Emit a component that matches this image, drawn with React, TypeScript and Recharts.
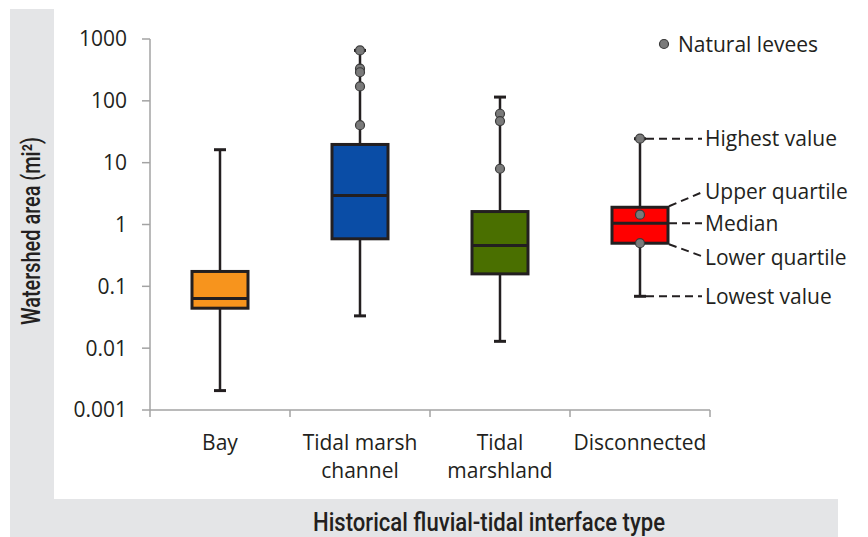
import React from "react";
import { ComposedChart, Bar, Scatter, XAxis, YAxis, Cell } from "recharts";

// values (log scale, mi²)
const categories = ["Bay", "Tidal marsh channel", "Tidal marshland", "Disconnected"];
const categoryLines = [["Bay"], ["Tidal marsh", "channel"], ["Tidal", "marshland"], ["Disconnected"]];
const lowest = [0.00206, 0.0333, 0.0129, 0.069];
const lowerQuartile = [0.0443, 0.587, 0.159, 0.498];
const medians = [0.0635, 2.95, 0.457, 1.05];
const upperQuartile = [0.174, 19.7, 1.62, 1.9];
const highest = [16.2, 654, 115, 24.4];
// natural levees (grey dots)
const levees = [[], [654, 331, 290, 171, 40.4], [61.8, 47, 7.97], [24.4, 1.44, 0.498]];
const boxColors = ["#f7941d", "#0a4da6", "#4a6f00", "#ff0000"];
const yTicks = [0.001, 0.01, 0.1, 1, 10, 100, 1000];
const calloutLabels = ["Highest value", "Upper quartile", "Median", "Lower quartile", "Lowest value"];

const leveeKeys = ["l0", "l1", "l2", "l3", "l4"];

const data = categories.map((name, i) => {
  const row: Record<string, any> = {
    name,
    whisker: [lowest[i], highest[i]],
    box: [lowerQuartile[i], upperQuartile[i]],
    median: medians[i],
  };
  leveeKeys.forEach((k, j) => {
    row[k] = levees[i][j] ?? null;
  });
  return row;
});

const INK = "#231f20";
const AXIS = "#a3a3a3";
const FONT = "'Open Sans', sans-serif";
const FS = 21;
const BOX_W = 56;
const CAP_W = 12;
const LABEL_X = 705;

const dash = { stroke: INK, strokeWidth: 2, strokeDasharray: "8 5" };

const Callout = ({ x1, y1, x2, y2, ty, label }: any) => (
  <g>
    <line x1={x1} y1={y1} x2={x2} y2={y2} {...dash} />
    <text x={LABEL_X} y={ty} dy="0.36em" fontSize={FS} fontFamily={FONT} fill={INK}>
      {label}
    </text>
  </g>
);

const WhiskerShape = (props: any) => {
  const { x, y, width, height, payload } = props;
  const cx = x + width / 2;
  const top = Math.min(y, y + height);
  const bottom = Math.max(y, y + height);
  const last = payload.name === categories[categories.length - 1];
  return (
    <g>
      <line x1={cx} x2={cx} y1={top} y2={bottom} stroke={INK} strokeWidth={2.5} />
      <line x1={cx - CAP_W / 2} x2={cx + CAP_W / 2} y1={top} y2={top} stroke={INK} strokeWidth={3} />
      <line x1={cx - CAP_W / 2} x2={cx + CAP_W / 2} y1={bottom} y2={bottom} stroke={INK} strokeWidth={3} />
      {last && (
        <>
          <Callout x1={cx + 6} y1={top} x2={LABEL_X - 3} y2={top} ty={top} label={calloutLabels[0]} />
          <Callout x1={cx + 6} y1={bottom} x2={LABEL_X - 3} y2={bottom} ty={bottom} label={calloutLabels[4]} />
        </>
      )}
    </g>
  );
};

const BoxShape = (props: any) => {
  const { x, y, width, height, fill, payload } = props;
  const top = Math.min(y, y + height);
  const bottom = Math.max(y, y + height);
  const last = payload.name === categories[categories.length - 1];
  return (
    <g>
      <rect x={x} y={top} width={width} height={bottom - top} fill={fill} stroke={INK} strokeWidth={3} />
      {last && (
        <>
          <Callout x1={x + width + 1} y1={top - 1} x2={LABEL_X - 3} y2={top - 15} ty={top - 16} label={calloutLabels[1]} />
          <Callout x1={x + width + 1} y1={bottom + 1} x2={LABEL_X - 3} y2={bottom + 13} ty={bottom + 14} label={calloutLabels[3]} />
        </>
      )}
    </g>
  );
};

const MedianShape = (props: any) => {
  const { cx, cy, payload } = props;
  const last = payload.name === categories[categories.length - 1];
  return (
    <g>
      <line x1={cx - BOX_W / 2} x2={cx + BOX_W / 2} y1={cy} y2={cy} stroke={INK} strokeWidth={3} />
      {last && <Callout x1={cx + BOX_W / 2 + 1} y1={cy} x2={LABEL_X - 3} y2={cy} ty={cy} label={calloutLabels[2]} />}
    </g>
  );
};

const leveeShape = (key: string) => (props: any) => {
  const { cx, cy, payload } = props;
  if (payload == null || payload[key] == null || !isFinite(cy)) return <g />;
  return <circle cx={cx} cy={cy} r={4.5} fill="#7a7a7a" stroke="#3a3a3a" strokeWidth={1.2} />;
};

const CategoryTick = (props: any) => {
  const { x, y, payload, index } = props;
  const half = payload.offset || 70;
  const lines = categoryLines[index] || [payload.value];
  return (
    <g>
      <line x1={x - half} x2={x - half} y1={y} y2={y + 7} stroke={AXIS} strokeWidth={1.5} />
      {index === categories.length - 1 && (
        <line x1={x + half} x2={x + half} y1={y} y2={y + 7} stroke={AXIS} strokeWidth={1.5} />
      )}
      <text textAnchor="middle" fontSize={FS} fontFamily={FONT} fill={INK}>
        {lines.map((l, i) => (
          <tspan key={i} x={x} y={y + 40 + i * 28}>
            {l}
          </tspan>
        ))}
      </text>
    </g>
  );
};

export default function App() {
  return (
    <div style={{ position: "absolute", left: 0, top: 0, width: 868, height: 537, background: "#fff" }}>
      <div style={{ position: "absolute", left: 10, top: 9, width: 44, height: 528, background: "#e4e5e7" }} />
      <div style={{ position: "absolute", left: 10, top: 499, width: 828, height: 38, background: "#e4e5e7" }} />

      <div style={{ position: "absolute", left: 0, top: 0 }}>
        <ComposedChart
          width={868}
          height={537}
          data={data}
          margin={{ top: 39, right: 158, bottom: 67, left: 0 }}
          barCategoryGap={0}
        >
          <XAxis
            dataKey="name"
            xAxisId={0}
            type="category"
            interval={0}
            height={60}
            tickLine={false}
            tickSize={0}
            tickMargin={0}
            axisLine={{ stroke: AXIS, strokeWidth: 1.5 }}
            tick={<CategoryTick />}
          />
          <XAxis dataKey="name" xAxisId="box" type="category" hide />
          <YAxis
            type="number"
            scale="log"
            domain={[0.001, 1000]}
            allowDataOverflow
            ticks={yTicks}
            interval={0}
            width={150}
            tickSize={8}
            tickMargin={15}
            tickFormatter={(v: number) => String(v)}
            axisLine={{ stroke: AXIS, strokeWidth: 1.5 }}
            tickLine={{ stroke: AXIS, strokeWidth: 1.5 }}
            tick={{ fill: INK, fontSize: FS, fontFamily: FONT }}
          />
          <Bar dataKey="whisker" xAxisId={0} barSize={CAP_W} shape={<WhiskerShape />} isAnimationActive={false} />
          <Bar dataKey="box" xAxisId="box" barSize={BOX_W} shape={<BoxShape />} isAnimationActive={false}>
            {data.map((_, i) => (
              <Cell key={i} fill={boxColors[i]} />
            ))}
          </Bar>
          <Scatter dataKey="median" xAxisId={0} shape={<MedianShape />} isAnimationActive={false} />
          {leveeKeys.map((k) => (
            <Scatter key={k} dataKey={k} xAxisId={0} shape={leveeShape(k)} isAnimationActive={false} />
          ))}
        </ComposedChart>
      </div>

      {/* legend and axis titles */}
      <svg style={{ position: "absolute", left: 0, top: 0 }} width={868} height={537}>
        <circle cx={664} cy={44} r={4.5} fill="#7a7a7a" stroke="#3a3a3a" strokeWidth={1.2} />
        <text x={678} y={44} dy="0.36em" fontSize={FS} fontFamily={FONT} fill={INK}>
          Natural levees
        </text>
        <text
          x={0}
          y={0}
          transform="translate(40 231) rotate(-90)"
          textAnchor="middle"
          fontSize={25}
          fontWeight={500}
          fontFamily="Roboto, sans-serif"
          fill={INK}
          textLength={188}
          lengthAdjust="spacingAndGlyphs"
        >
          Watershed area (mi²)
        </text>
        <text
          x={489}
          y={531}
          textAnchor="middle"
          fontSize={25}
          fontWeight={500}
          fontFamily="Roboto, sans-serif"
          fill={INK}
          textLength={352}
          lengthAdjust="spacingAndGlyphs"
        >
          Historical fluvial-tidal interface type
        </text>
      </svg>
    </div>
  );
}
